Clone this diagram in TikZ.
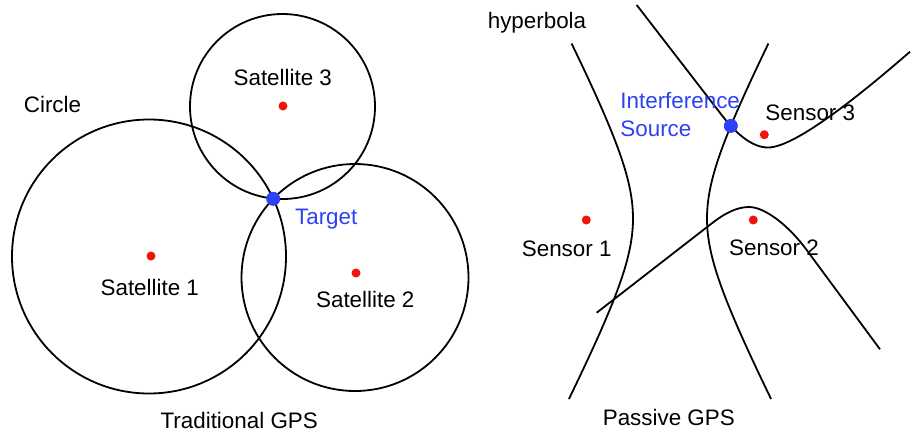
\documentclass[tikz,border=0pt]{standalone}
\usepackage{fontspec}
\setmainfont{Liberation Sans}
\usepackage{xcolor}
\usetikzlibrary{intersections}
\definecolor{fixblue}{RGB}{45, 65, 245}
\definecolor{centerred}{RGB}{240, 20, 10}

\begin{document}
\begin{tikzpicture}[
    x=0.5pt, y=-0.5pt,
    txt/.style={inner sep=0pt, anchor=base, font=\fontsize{11.2}{13.85}\selectfont},
    orbit/.style={draw=black, line width=0.9pt},
    hyp/.style={draw=black, line width=0.9pt},
    satdot/.style={circle, fill=centerred, inner sep=0pt, minimum size=4.5pt},
    fixdot/.style={circle, fill=fixblue, inner sep=0pt, minimum size=7pt}
]
\useasboundingbox (0,0) rectangle (911,435);

% Traditional GPS: range circles
\draw[orbit] (149,256.5) circle[radius=137];
\draw[orbit] (355,277.5) circle[radius=113.5];
\draw[orbit] (282.5,106.5) circle[radius=92.5];

% Passive GPS: hyperbola between sensor 1 and sensor 2
\draw[hyp] plot[domain=-1.634:1.663, samples=60, variable=\t] ({670-37*cosh(\t)}, {218.5+71*sinh(\t)});
\draw[hyp, name path=rbranch] plot[domain=-1.634:1.663, samples=60, variable=\t] ({670+37*cosh(\t)}, {218.5+71*sinh(\t)});

% hyperbola between sensor 2 and sensor 3
\draw[hyp, name path=upper] (636.7,5) -- (722,115.4)
    .. controls (736,133.5) and (752,147.5) .. (768,147.5)
    .. controls (795,147.5) and (860,95.2) .. (910,51.7);
\draw[hyp] (596.7,312.7) -- (712,223.2)
    .. controls (725,213.1) and (737,207) .. (749,207)
    .. controls (765,207) and (788.7,225.6) .. (806.7,250) -- (880,349.3);

% Centres and fixes
\node[satdot] (s1) at (151,256) {};
\node[satdot] (s2) at (356,273) {};
\node[satdot] (s3) at (283,106) {};
\node[fixdot] (tgt) at (273.2,198.8) {};

\node[satdot] (n1) at (586.3,220) {};
\node[satdot] (n2) at (753.3,220) {};
\node[satdot] (n3) at (764.3,134.7) {};
\path[name intersections={of=rbranch and upper, by=xsrc}];
\node[fixdot] (src) at (xsrc) {};

% Labels
\node[txt] (lcircle) at (52.5,112) {Circle};
\node[txt] (l3) at (282.8,85.3) {Satellite 3};
\node[txt] (l1) at (149.8,295.3) {Satellite 1};
\node[txt] (l2) at (365.3,307) {Satellite 2};
\node[txt, text=fixblue] (ltgt) at (326.2,224) {Target};
\node[txt] (lgps) at (239.2,428.5) {Traditional GPS};

\node[txt] (lhyp) at (537,28.3) {hyperbola};
\node[txt, text=fixblue, anchor=base west, align=left] (lsrc) at (620,136) {Interference\\Source};
\node[txt] (ln3) at (810.3,120.7) {Sensor 3};
\node[txt] (ln1) at (566.7,256.3) {Sensor 1};
\node[txt] (ln2) at (774,255.3) {Sensor 2};
\node[txt] (lpgps) at (668.8,425.3) {Passive GPS};

\end{tikzpicture}
\end{document}
